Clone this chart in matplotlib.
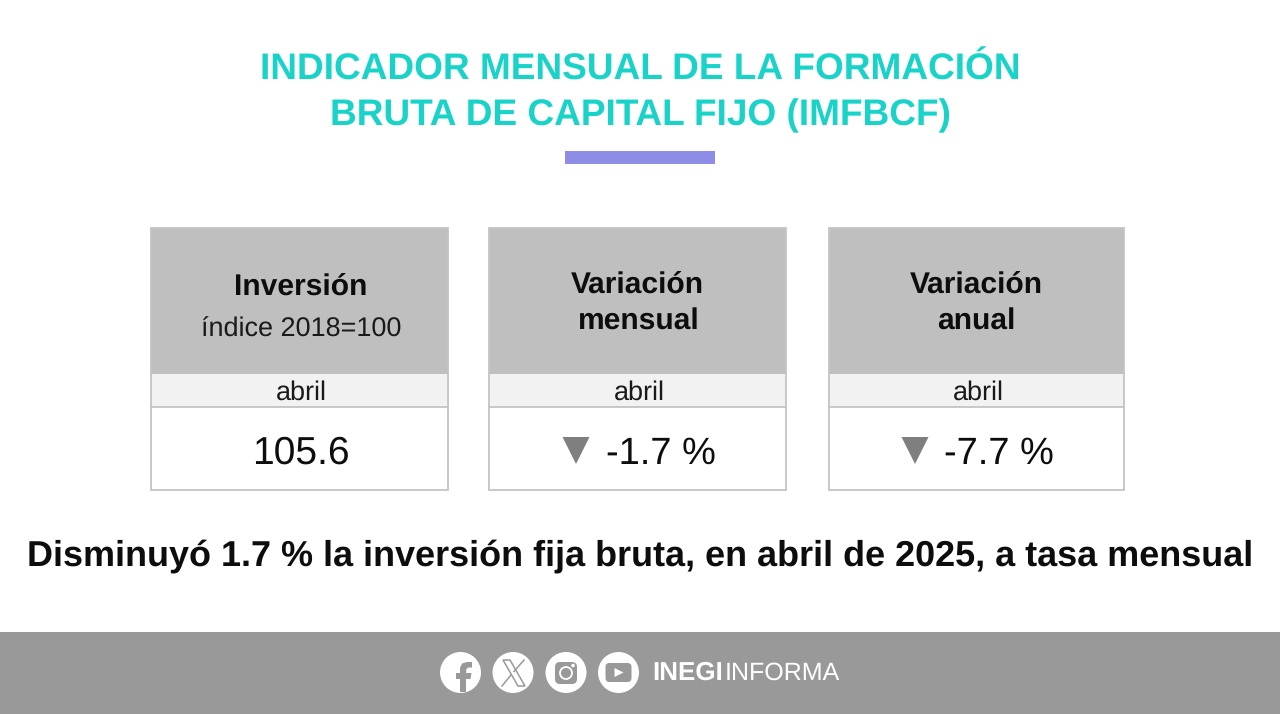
# -*- coding: utf-8 -*-
"""
Indicador mensual de la formacion bruta de capital fijo: tarjetas de resumen
"""

import matplotlib
matplotlib.use('Agg')
import matplotlib.pyplot as plt
from matplotlib.patches import Rectangle, Circle, FancyBboxPatch, Polygon

plt.rcParams['font.family'] = ['Liberation Sans', 'DejaVu Sans']
plt.rcParams['text.hinting'] = 'none'
plt.rcParams['text.hinting_factor'] = 1

# ==================== datos ====================
title_lines = ['INDICADOR MENSUAL DE LA FORMACIÓN', 'BRUTA DE CAPITAL FIJO (IMFBCF)']
card_heads = [['Inversión'], ['Variación', 'mensual'], ['Variación', 'anual']]
card_sub = ['índice 2018=100', None, None]
card_months = ['abril', 'abril', 'abril']
card_values = ['105.6', '-1.7 %', '-7.7 %']
card_down = [False, True, True]
summary = 'Disminuyó 1.7 % la inversión fija bruta, en abril de 2025, a tasa mensual'

# estilos
TEAL = '#19D3C9'
BAR = '#8D8DE6'
HEAD = '#BFBFBF'
BAND = '#F2F2F2'
EDGE = '#C4C4C4'
ARROW = '#7F7F7F'
FOOT = '#999999'
INK = '#0D0D0D'

fig = plt.figure(figsize=(12.8, 7.14), dpi=100, facecolor='white')
ax = fig.add_axes([0, 0, 1, 1])
ax.set_xlim(0, 1280)
ax.set_ylim(714, 0)
ax.axis('off')

# titulo
ax.text(640, 79.5, title_lines[0], ha='center', va='baseline', fontsize=26.8, fontweight='bold', color=TEAL)
ax.text(640, 125, title_lines[1], ha='center', va='baseline', fontsize=26.8, fontweight='bold', color=TEAL)
ax.add_patch(Rectangle((565, 151), 150, 13, fc=BAR, ec='none'))

# tarjetas
card_x = [151, 489, 829]
card_w = [297, 297, 295]
for i in range(3):
    x, w = card_x[i], card_w[i]
    cx = x + w / 2
    ax.add_patch(Rectangle((x, 228), w, 146, fc=HEAD, ec='none'))
    ax.add_patch(Rectangle((x, 374), w, 33, fc=BAND, ec='none'))
    ax.add_patch(Rectangle((x, 228), w, 262, fc='none', ec=EDGE, lw=1.3))
    ax.plot([x, x + w], [407, 407], color=EDGE, lw=1.3)

    if card_sub[i]:
        ax.text(cx + 1, 295, card_heads[i][0], ha='center', va='baseline', fontsize=21.4, fontweight='bold', color=INK)
        ax.text(cx + 2, 336.5, card_sub[i], ha='center', va='baseline', fontsize=19.2, color='#1A1A1A')
    else:
        ax.text(cx, 293, card_heads[i][0], ha='center', va='baseline', fontsize=21.9, fontweight='bold', color=INK)
        ax.text(cx, 330, card_heads[i][1], ha='center', va='baseline', fontsize=21.9, fontweight='bold', color=INK)

    ax.text(cx + 2, 400, card_months[i], ha='center', va='baseline', fontsize=19.4, color='#1A1A1A')

    if card_down[i]:
        ax.add_patch(Polygon([[cx - 75, 437], [cx - 48, 437], [cx - 61.5, 464]], fc=ARROW, ec='none'))
        ax.text(cx - 32, 464, card_values[i], ha='left', va='baseline', fontsize=27.7, color=INK)
    else:
        ax.text(cx + 1.5, 464, card_values[i], ha='center', va='baseline', fontsize=27.9, color=INK)

# frase
ax.text(640, 566, summary, ha='center', va='baseline', fontsize=25.6, fontweight='bold', color=INK)

# pie de pagina
ax.add_patch(Rectangle((0, 632), 1280, 82, fc=FOOT, ec='none'))

icon_x = [460.5, 513, 566, 618.5]
for ix in icon_x:
    ax.add_patch(Circle((ix, 672.5), 20.5, fc='white', ec='none'))

# facebook
ax.add_patch(Polygon([[460, 692], [460, 679], [456, 679], [456, 673], [460, 673], [460, 668], [462, 663.5],
                      [467, 662], [472, 662], [472, 667.5], [468.5, 667.5], [466.5, 669], [466, 673],
                      [471.5, 673], [470.5, 679], [466, 679], [466, 692]], fc=FOOT, ec='none'))
# x
ax.add_patch(Polygon([[503, 660], [510, 660], [525, 686], [518, 686]], fc='none', ec=FOOT, lw=1.1))
ax.plot([524, 514], [660, 671.5], color=FOOT, lw=1.1)
ax.plot([511, 502], [675, 686], color=FOOT, lw=1.1)
# instagram
ax.add_patch(FancyBboxPatch((icon_x[2] - 11, 662), 22, 22, boxstyle='round,pad=0,rounding_size=5', fc=FOOT, ec='none'))
ax.add_patch(Circle((icon_x[2], 673), 6, fc='none', ec='white', lw=1.3))
ax.add_patch(Circle((icon_x[2] + 7, 665.5), 1.8, fc='white', ec='none'))
# youtube
ax.add_patch(FancyBboxPatch((icon_x[3] - 13, 663), 26, 19, boxstyle='round,pad=0,rounding_size=4', fc=FOOT, ec='none'))
ax.add_patch(Polygon([[icon_x[3] - 4, 668], [icon_x[3] - 4, 677], [icon_x[3] + 5, 672.5]], fc='white', ec='none'))

ax.text(652, 680, 'INEGI', ha='left', va='baseline', fontsize=18.6, fontweight='bold', color='white')
ax.text(725, 680, 'INFORMA', ha='left', va='baseline', fontsize=18.2, color='white')

fig.savefig('out.png', dpi=100, facecolor='white')
